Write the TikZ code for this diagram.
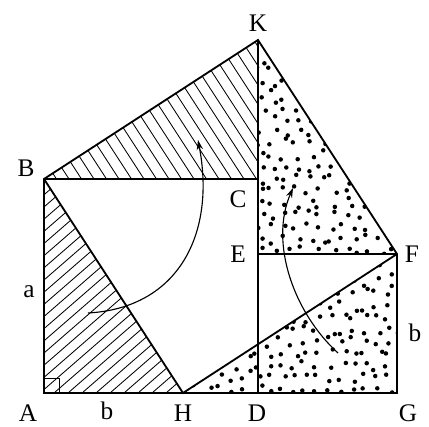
\documentclass[tikz,border=0pt]{standalone}
\usepackage{fontspec}
\setmainfont{Liberation Serif}
\usetikzlibrary{arrows.meta}
\begin{document}
\begin{tikzpicture}[x=0.025cm,y=0.025cm,
  edge/.style={line width=1.3pt,line join=miter},
  hatch/.style={line width=0.6pt},
  dot/.style={radius=1.6pt},
  turn/.style={line width=0.8pt,-{Stealth[length=7pt,width=4.5pt]}},
  lbl/.style={font=\fontsize{18}{20}\selectfont,inner sep=0pt}]
\useasboundingbox (-44,-34) rectangle (385,393);
\coordinate (A) at (0,0);
\coordinate (B) at (0,214);
\coordinate (H) at (139,0);
\coordinate (D) at (214,0);
\coordinate (G) at (353,0);
\coordinate (F) at (353,139);
\coordinate (E) at (214,139);
\coordinate (C) at (214,214);
\coordinate (K) at (214,353);
% hatched triangles
\begin{scope}
\clip (A) -- (B) -- (H) -- cycle;
\foreach \c in {-270,-256,...,150} \draw[hatch] (\c,0) -- ++(41:420);
\end{scope}
\begin{scope}
\clip (B) -- (C) -- (K) -- cycle;
\foreach \c in {0,12.5,...,320} \draw[hatch] (\c,214) -- ++(123:300);
\end{scope}
% dotted triangles
\pgfmathsetseed{4242}
\begin{scope}
\clip (K) -- (E) -- (F) -- cycle;
\foreach \i in {0,...,11} \foreach \j in {0,...,18} {
  \pgfmathsetmacro\px{217+\i*12+rand*5}
  \pgfmathsetmacro\py{142+\j*12+rand*5}
  \fill[dot] (\px,\py) circle;
}
\end{scope}
\begin{scope}
\clip (H) -- (G) -- (F) -- cycle;
\foreach \i in {0,...,18} \foreach \j in {0,...,11} {
  \pgfmathsetmacro\px{142+\i*12+rand*5}
  \pgfmathsetmacro\py{3+\j*12+rand*5}
  \fill[dot] (\px,\py) circle;
}
\end{scope}
% right angle at A
\draw[line width=0.7pt] (0,15) -| (15,0);
% figure lines
\draw[edge] (A) -- (G) -- (F) -- (K) -- (B) -- cycle;
\draw[edge] (B) -- (H) -- (F);
\draw[edge] (B) -- (C);
\draw[edge] (K) -- (D);
\draw[edge] (E) -- (F);
% turning arrows
\coordinate (t1) at (44,80);
\coordinate (t1e) at (154,253);
\coordinate (t2) at (294,40);
\coordinate (t2e) at (249,205);
\draw[turn] (t1) .. controls (135,85) and (172,160) .. (t1e);
\draw[turn] (t2) .. controls (250,80) and (225,150) .. (t2e);
% labels
\node[lbl] (lK) at (214,370) {K};
\node[lbl] (lB) at (-18,225) {B};
\node[lbl] (lC) at (194,194) {C};
\node[lbl] (lE) at (194,139) {E};
\node[lbl] (lF) at (368,139) {F};
\node[lbl] (la) at (-15,101) {a};
\node[lbl] (lb) at (371,60) {b};
\node[lbl] (lA) at (-16,-20) {A};
\node[lbl] (lbb) at (63,-18) {b};
\node[lbl] (lH) at (139,-20) {H};
\node[lbl] (lD) at (213,-20) {D};
\node[lbl] (lG) at (364,-20) {G};
\end{tikzpicture}
\end{document}
